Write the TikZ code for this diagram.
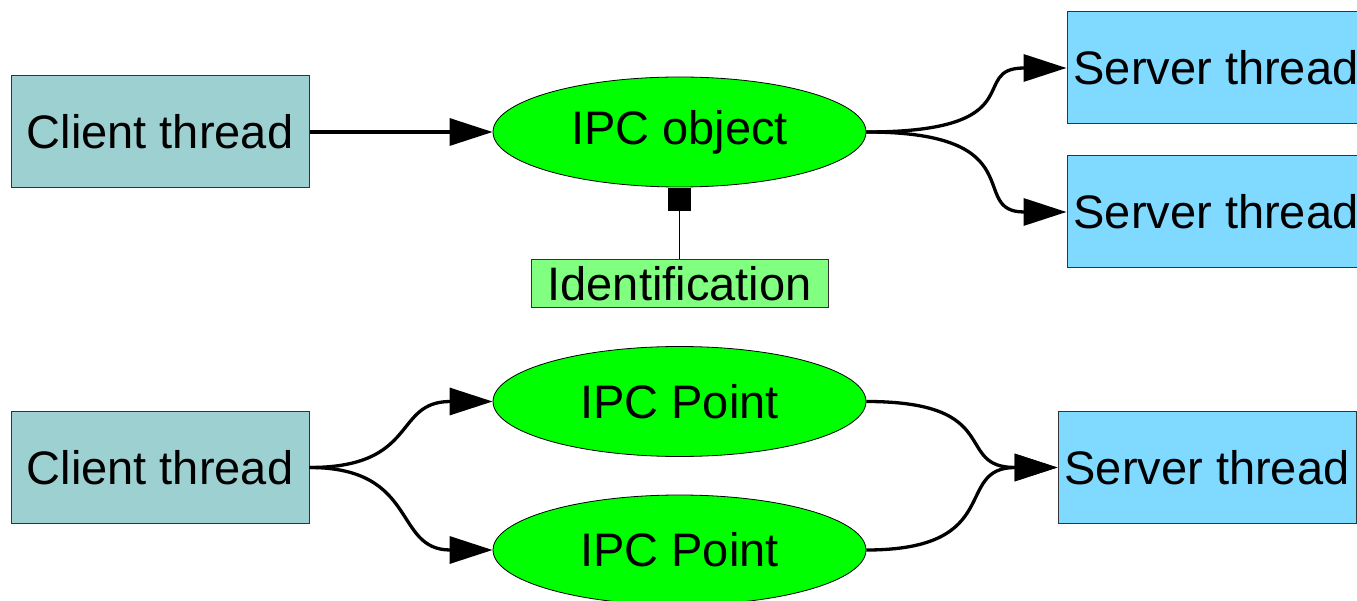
\documentclass[tikz,border=0pt]{standalone}
\usepackage{fontspec}
\setmainfont{Liberation Sans}
\usetikzlibrary{shapes.geometric,arrows.meta}
\definecolor{clientfill}{HTML}{9DD1D1}
\definecolor{serverfill}{HTML}{80D9FF}
\definecolor{ipcgreen}{HTML}{00FF00}
\definecolor{identfill}{HTML}{80FF80}
\begin{document}
\begin{tikzpicture}[x=1pt,y=-1pt,
  every node/.style={font=\fontsize{47}{56}\selectfont, inner sep=0pt},
  thread/.style={rectangle, draw=black!80, line width=1pt,
                 minimum width=298pt, minimum height=112pt},
  client/.style={thread, fill=clientfill},
  server/.style={thread, fill=serverfill},
  ipc/.style={ellipse, draw=black, line width=0.8pt, fill=ipcgreen,
              minimum width=373pt, minimum height=110pt},
  link/.style={line width=3.3pt, -{Triangle[length=43pt,width=27pt]}},
]
\useasboundingbox (0,0) rectangle (1357,601);

% upper part: one shared IPC object
\node[client] (client1) at (160,132) {Client thread};
\node[ipc] (ipcobj) at (679.5,132) {IPC object};
\node[server] (server1) at (1216,68) {Server thread};
\node[server] (server2) at (1216,212) {Server thread};
\node[rectangle, fill=black, minimum size=23pt] (idmark) at (679.5,199.5) {};
\node[rectangle, draw=black!80, line width=1pt, fill=identfill,
      minimum width=297pt, minimum height=48pt] (ident) at (679.5,284) {Identification};

\draw[link] (client1.east) -- (ipcobj.west);
\draw[link] (ipcobj.east) .. controls +(170,0) and +(-100,0) .. (server1.west);
\draw[link] (ipcobj.east) .. controls +(170,0) and +(-100,0) .. (server2.west);
\draw[line width=0.8pt] (idmark.south) -- (ident.north);

% lower part: two IPC points
\node[client] (client2) at (160,467.5) {Client thread};
\node[ipc] (point1) at (679.5,401.5) {IPC Point};
\node[ipc] (point2) at (679.5,550) {IPC Point};
\node[server] (server3) at (1207,467.5) {Server thread};

\draw[link] (client2.east) .. controls +(110,0) and +(-100,0) .. (point1.west);
\draw[link] (client2.east) .. controls +(110,0) and +(-100,0) .. (point2.west);
\draw[link] (point1.east) .. controls +(140,0) and +(-105,0) .. (server3.west);
\draw[link] (point2.east) .. controls +(140,0) and +(-105,0) .. (server3.west);
\end{tikzpicture}
\end{document}
